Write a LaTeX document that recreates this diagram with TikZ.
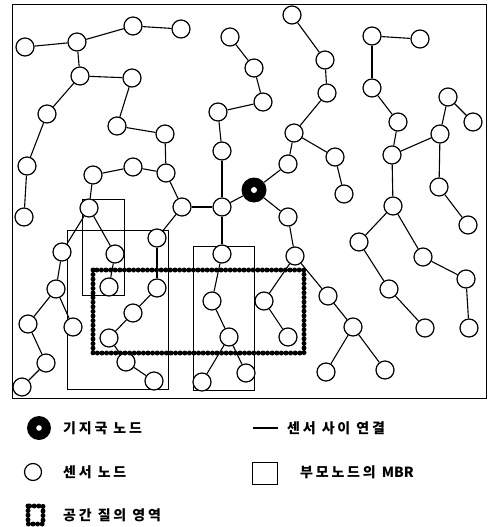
\documentclass[tikz,border=0pt]{standalone}
\usepackage{fontspec}
\newfontfamily\kr{Noto Sans CJK KR}[LetterSpace=20]
\newfontfamily\krplain{Noto Sans CJK KR}
\begin{document}
\begin{tikzpicture}[x=1pt,y=-1pt,
  sn/.style={circle,draw=black,fill=white,line width=1.2pt,minimum size=18pt,inner sep=0pt},
  bs/.style={circle,fill=black,minimum size=25pt,inner sep=0pt},
  lnk/.style={line width=1.1pt},
  mbr/.style={line width=0.8pt},
  qline/.style={line width=2.6pt},
  qbead/.style={line width=5pt,dash pattern=on 0pt off 4.6pt,line cap=round},
  lbl/.style={anchor=west,inner sep=0pt,font=\kr\bfseries\fontsize{14}{16}\selectfont}]
\useasboundingbox (0,0) rectangle (488,527);
\draw[line width=1pt] (12,5) rectangle (486,398);
% MBR rectangles
\draw[mbr] (82,199) rectangle (124,295);
\draw[mbr] (67,230) rectangle (168,389);
\draw[mbr] (193,246) rectangle (254,390);
% nodes
\foreach \n/\x/\y in {A1/25/47,A2/77/42,A3/133/26,A8/181/29,A4/80/76,A5/132/78,A6/47/114,A7/117/126,
 A12/165/134,A13/166/173,A14/133/167,A15/93/175,A16/27/166,A17/24/217,A9/230/37,B1/254/68,B2/263/102,
 A10/218/112,A11/222/151,B3/292/15,B5/325/60,B6/327/93,B4/294/133,B7/288/164,B8/335/157,B9/344/194,
 C1/372/36,C2/420/39,C3/372/88,C4/398/122,C5/392/155,C6/448/97,C7/473/122,C8/440/134,C9/439/187,
 C11/468/225,C10/393/206,C12/359/242,C13/423/257,C14/389/289,C15/425/328,C16/466/279,C17/469/328,
 D1/288/217,D2/295/256,D3/264/301,D4/288/337,D5/328/296,D6/353/327,D7/326/372,D8/385/370,
 F1/182/207,F2/222/207,F3/222/254,F4/212/301,F5/229/337,F6/202/382,F7/246/373,
 E1/89/208,E2/115/254,E3/109/287,E4/62/252,E5/56/289,E6/28/324,E7/46/363,E8/22/387,E9/73/327,
 E10/157/238,E11/157/288,E12/133/313,E13/109/338,E14/126/362,E15/154/381}
 {\node[sn] (\n) at (\x,\y) {};}
\node[bs] (BS) at (254,190) {};
\fill[white] (BS) circle (3pt);
% links
\foreach \a/\b in {A1/A2,A2/A3,A3/A8,A2/A4,A4/A5,A5/A7,A7/A12,A12/A13,A4/A6,A6/A16,A16/A17,A13/A14,A14/A15,
 A15/E1,E1/E4,E1/E2,E2/E3,E4/E5,E5/E6,E6/E7,E7/E8,E5/E9,A13/F1,F1/F2,F2/BS,F1/E10,E10/E11,E11/E12,
 E12/E13,E13/E14,E14/E15,A11/F2,A10/A11,B2/A10,B1/B2,A9/B1,F2/F3,F3/F4,F4/F5,F5/F6,F5/F7,BS/B7,B7/B4,
 B4/B6,B6/B5,B5/B3,B4/B8,B8/B9,BS/D1,D1/D2,D2/D3,D3/D4,D2/D5,D5/D6,D6/D7,D6/D8,C1/C2,C1/C3,C3/C4,
 C4/C5,C5/C8,C8/C6,C6/C7,C8/C9,C9/C11,C5/C10,C10/C12,C10/C13,C12/C14,C14/C15,C13/C16,C16/C17}
 {\draw[lnk] (\a) -- (\b);}
% query region
\draw[qline] (93,270) rectangle (304,353);
\draw[qbead] (93,270) rectangle (304,353);
% legend
\node[bs,minimum size=24pt] (lgbs) at (39,428) {};
\fill[white] (lgbs) circle (2.8pt);
\node[lbl] (t1) at (63,428) {기지국 노드};
\coordinate (l1) at (253,428);
\coordinate (l2) at (278,428);
\draw[lnk] (l1) -- (l2);
\node[lbl] (t2) at (287,428) {센서 사이 연결};
\node[sn,minimum size=17pt] (lgsn) at (33,472) {};
\node[lbl] (t3) at (63,472) {센서 노드};
\draw[mbr] (252,462) rectangle (277,484);
\node[lbl] (t4) at (300,472) {부모노드의 {\krplain\bfseries MBR}};
\draw[qline] (28,506) rectangle (43,524);
\draw[qbead] (28,506) rectangle (43,524);
\node[lbl] (t5) at (63,515) {공간 질의 영역};
\end{tikzpicture}
\end{document}
